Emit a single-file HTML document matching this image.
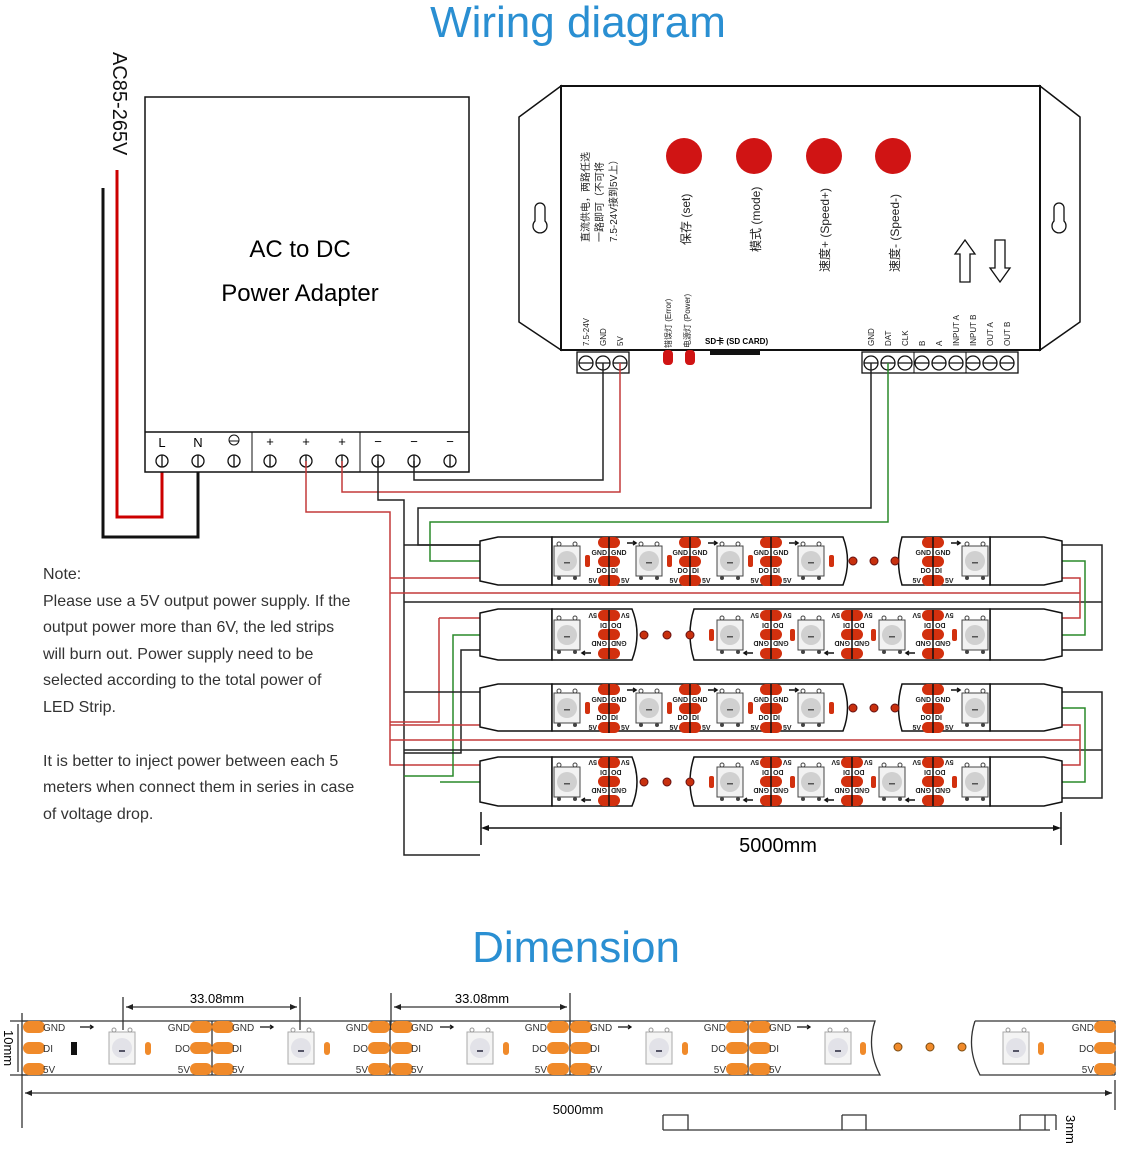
<!DOCTYPE html>
<html><head><meta charset="utf-8"><style>
html,body{margin:0;padding:0;background:#fff}
svg{display:block}
text{font-family:"Liberation Sans","Noto Sans CJK SC",sans-serif}
.s{font-family:"Liberation Serif","Noto Serif CJK SC","Noto Sans CJK SC",serif}
.pl{font-size:7px;font-weight:bold;fill:#222}
</style></head><body>
<svg width="1122" height="1151" viewBox="0 0 1122 1151" xmlns="http://www.w3.org/2000/svg">
<defs>
<g id="led">
<rect x="-13" y="-15" width="26" height="30" fill="#f2f2f2" stroke="#444" stroke-width="1"/>
<circle cx="0" cy="0" r="10" fill="#d0d0d0"/>
<circle cx="-8" cy="-17" r="2" fill="none" stroke="#444"/><circle cx="8" cy="-17" r="2" fill="none" stroke="#444"/>
<circle cx="-8" cy="17" r="2" fill="#444"/><circle cx="8" cy="17" r="2" fill="#444"/>
<rect x="-3" y="1" width="6" height="1.5" fill="#555"/>
</g>
<g id="pads">
<rect x="-11" y="-24" width="22" height="11" rx="5.5" fill="#d2300e"/>
<rect x="-11" y="-5" width="22" height="11" rx="5.5" fill="#d2300e"/>
<rect x="-11" y="14" width="22" height="11" rx="5.5" fill="#d2300e"/>
<line x1="0" y1="-24" x2="0" y2="25" stroke="#111" stroke-width="1.5"/>
<path d="M18,-18 h8 M24,-20 l3,2 -3,2" stroke="#111" stroke-width="1.5" fill="none"/>
</g>
<g id="opad"><rect x="-11" y="-6" width="22" height="12" rx="6" fill="#f08a2a"/></g>
<g id="oled">
<rect x="-13" y="-16" width="26" height="32" fill="#f4f4f4" stroke="#aaa"/>
<circle cx="0" cy="0" r="10" fill="#e2e2e8"/>
<circle cx="-8" cy="-18" r="2" fill="none" stroke="#999"/><circle cx="8" cy="-18" r="2" fill="none" stroke="#999"/>
<rect x="-3" y="2" width="6" height="2" fill="#556"/>
</g>
</defs>

<text x="578" y="37" text-anchor="middle" font-size="44" fill="#2a8fd2">Wiring diagram</text>
<text x="576" y="962" text-anchor="middle" font-size="44" fill="#2a8fd2">Dimension</text>

<text transform="translate(113,52) rotate(90)" font-size="20" fill="#111">AC85-265V</text>
<path d="M117,170 V517 H162 V466" stroke="#c00" stroke-width="3" fill="none"/>
<path d="M103,188 V537 H198 V466" stroke="#111" stroke-width="3" fill="none"/>

<rect x="145" y="97" width="324" height="375" fill="#fff" stroke="#111" stroke-width="1.5"/>
<line x1="145" y1="432" x2="469" y2="432" stroke="#111" stroke-width="1.5"/>
<line x1="252" y1="432" x2="252" y2="472" stroke="#111"/>
<line x1="360" y1="432" x2="360" y2="472" stroke="#111"/>
<text x="300" y="257" text-anchor="middle" font-size="24">AC to DC</text>
<text x="300" y="301" text-anchor="middle" font-size="24">Power Adapter</text>
<g class="s" font-size="13" text-anchor="middle">
<text x="162" y="447">L</text><text x="198" y="447">N</text>
<text x="270" y="446">+</text><text x="306" y="446">+</text><text x="342" y="446">+</text>
<text x="378" y="446">−</text><text x="414" y="446">−</text><text x="450" y="446">−</text>
</g>
<circle cx="234" cy="440" r="5" fill="none" stroke="#111"/><line x1="229" y1="441" x2="239" y2="441" stroke="#111"/>
<g fill="none" stroke="#111" stroke-width="1.3">
<circle cx="162" cy="461" r="6"/><circle cx="198" cy="461" r="6"/><circle cx="234" cy="461" r="6"/>
<circle cx="270" cy="461" r="6"/><circle cx="306" cy="461" r="6"/><circle cx="342" cy="461" r="6"/>
<circle cx="378" cy="461" r="6"/><circle cx="414" cy="461" r="6"/><circle cx="450" cy="461" r="6"/>
<path d="M162,455v12M198,455v12M234,455v12M270,455v12M306,455v12M342,455v12M378,455v12M414,455v12M450,455v12"/>
</g>

<path d="M561,86 L519,117 V322 L561,350 Z M1040,86 L1080,117 V322 L1040,350 Z" fill="#fff" stroke="#111" stroke-width="1.5"/>
<rect x="561" y="86" width="479" height="264" fill="#fff" stroke="#111" stroke-width="2"/>
<path d="M535,221 a7,7 0 1 0 10,0 v-13 a5,5 0 0 0 -10,0 z" fill="none" stroke="#111" stroke-width="1.3"/>
<path d="M1054,221 a7,7 0 1 0 10,0 v-13 a5,5 0 0 0 -10,0 z" fill="none" stroke="#111" stroke-width="1.3"/>
<g fill="#d01414"><circle cx="684" cy="156" r="18"/><circle cx="754" cy="156" r="18"/><circle cx="824" cy="156" r="18"/><circle cx="893" cy="156" r="18"/></g>
<g class="s" font-size="10" fill="#222">
<text transform="translate(589,242) rotate(-90)">直流供电，两路任选</text>
<text transform="translate(603,242) rotate(-90)">一路即可（不可将</text>
<text transform="translate(617,242) rotate(-90)">7.5-24V接到5V上）</text>
</g>
<g class="s" font-size="12" fill="#222">
<text transform="translate(690,245) rotate(-90)">保存 (set)</text>
<text transform="translate(760,252) rotate(-90)">模式 (mode)</text>
<text transform="translate(829,272) rotate(-90)">速度+ (Speed+)</text>
<text transform="translate(899,272) rotate(-90)">速度- (Speed-)</text>
</g>
<path d="M960,282 V254 H955 L965,240 L975,254 H970 V282 Z M995,240 V268 H990 L1000,282 L1010,268 H1005 V240 Z" fill="#fff" stroke="#111" stroke-width="1.3"/>
<g class="s" font-size="8" fill="#222">
<text transform="translate(589,346) rotate(-90)">7.5-24V</text>
<text transform="translate(606,346) rotate(-90)">GND</text>
<text transform="translate(623,346) rotate(-90)">5V</text>
<text transform="translate(671,348) rotate(-90)">错误灯 (Error)</text>
<text transform="translate(690,348) rotate(-90)">电源灯 (Power)</text>
<text transform="translate(874,346) rotate(-90)">GND</text>
<text transform="translate(891,346) rotate(-90)">DAT</text>
<text transform="translate(908,346) rotate(-90)">CLK</text>
<text transform="translate(925,346) rotate(-90)">B</text>
<text transform="translate(942,346) rotate(-90)">A</text>
<text transform="translate(959,346) rotate(-90)">INPUT A</text>
<text transform="translate(976,346) rotate(-90)">INPUT B</text>
<text transform="translate(993,346) rotate(-90)">OUT A</text>
<text transform="translate(1010,346) rotate(-90)">OUT B</text>
</g>
<text x="705" y="344" font-size="8" font-weight="bold">SD卡 (SD CARD)</text>
<rect x="710" y="351" width="50" height="4" fill="#111"/>
<rect x="663" y="350" width="10" height="15" rx="4" fill="#d01414"/><rect x="685" y="350" width="10" height="15" rx="4" fill="#d01414"/>
<rect x="577" y="352" width="52" height="21" fill="#fff" stroke="#111" stroke-width="1.3"/>
<rect x="862" y="352" width="156" height="21" fill="#fff" stroke="#111" stroke-width="1.3"/>
<line x1="914" y1="352" x2="914" y2="373" stroke="#111"/><line x1="966" y1="352" x2="966" y2="373" stroke="#111"/>
<g fill="none" stroke="#111" stroke-width="1.3">
<circle cx="586" cy="363" r="7"/><circle cx="603" cy="363" r="7"/><circle cx="620" cy="363" r="7"/>
<circle cx="871" cy="363" r="7"/><circle cx="888" cy="363" r="7"/><circle cx="905" cy="363" r="7"/><circle cx="922" cy="363" r="7"/><circle cx="939" cy="363" r="7"/><circle cx="956" cy="363" r="7"/><circle cx="973" cy="363" r="7"/><circle cx="990" cy="363" r="7"/><circle cx="1007" cy="363" r="7"/>
<path d="M579,363h14M596,363h14M613,363h14M864,363h14M881,363h14M898,363h14M915,363h14M932,363h14M949,363h14M966,363h14M983,363h14M1000,363h14"/>
</g>

<g fill="none" stroke-width="1.5">
<path d="M414,461 V480 H603 V363" stroke="#222"/>
<path d="M342,461 V492 H620 V363" stroke="#c43a3a"/>
<path d="M306,461 V512 H390 V765 H480" stroke="#c43a3a"/>
<path d="M378,461 V500 H404 V855 H480" stroke="#222"/>
<path d="M871,363 V508 H418 V545 H480" stroke="#222"/>
<path d="M888,363 V522 H430 V561 H480" stroke="#2a8a2a"/>
<path d="M390,578 H480" stroke="#c43a3a"/>
<path d="M390,593 H1080" stroke="#c43a3a"/>
<path d="M404,602 H1102" stroke="#222"/>
<path d="M404,545 H480" stroke="#222"/>
<path d="M439,618 V722 H390" stroke="#c43a3a"/>
<path d="M480,618 H439" stroke="#c43a3a"/>
<path d="M480,635 H453 V776 H404" stroke="#2a8a2a"/>
<path d="M480,650 H461 V753 H404" stroke="#222"/>
<path d="M404,692 H480" stroke="#222"/>
<path d="M390,725 H480" stroke="#c43a3a"/>
<path d="M390,740 H1080" stroke="#c43a3a"/>
<path d="M404,750 H1102" stroke="#222"/>
<path d="M440,782 H480" stroke="#2a8a2a"/>
<path d="M1062,545 H1102 V650 H1062" stroke="#222"/>
<path d="M1062,561 H1085 V635 H1062" stroke="#2a8a2a"/>
<path d="M1062,578 H1080 V618 H1062" stroke="#c43a3a"/>
<path d="M1062,692 H1102 V798 H1062" stroke="#222"/>
<path d="M1062,708 H1085 V782 H1062" stroke="#2a8a2a"/>
<path d="M1062,725 H1080 V765 H1062" stroke="#c43a3a"/>
</g>

<g stroke="#111" stroke-width="1.5" fill="#fff">
<path d="M480,541 L498,537 H552 V585 H498 L480,581 Z"/><path d="M990,537 H1044 L1062,541 V581 L1044,585 H990 Z"/>
<path d="M552,537 H843 Q852,561 843,585 H552 Z"/><path d="M902,537 H990 V585 H902 Q895,561 902,537 Z"/>
<path d="M480,613 L498,609 H552 V660 H498 L480,656 Z"/><path d="M990,609 H1044 L1062,613 V656 L1044,660 H990 Z"/>
<path d="M552,609 H632 Q642,634 632,660 H552 Z"/><path d="M694,609 H990 V660 H694 Q686,634 694,609 Z"/>
<path d="M480,688 L498,684 H552 V731 H498 L480,727 Z"/><path d="M990,684 H1044 L1062,688 V727 L1044,731 H990 Z"/>
<path d="M552,684 H843 Q852,708 843,731 H552 Z"/><path d="M902,684 H990 V731 H902 Q895,708 902,684 Z"/>
<path d="M480,761 L498,757 H552 V806 H498 L480,802 Z"/><path d="M990,757 H1044 L1062,761 V802 L1044,806 H990 Z"/>
<path d="M552,757 H632 Q642,782 632,806 H552 Z"/><path d="M694,757 H990 V806 H694 Q686,782 694,757 Z"/>
</g>
<g>
<use href="#led" x="567" y="561"/><use href="#led" x="649" y="561"/><use href="#led" x="730" y="561"/><use href="#led" x="811" y="561"/><use href="#led" x="975" y="561"/>
<use href="#led" x="567" y="635"/><use href="#led" x="730" y="635"/><use href="#led" x="811" y="635"/><use href="#led" x="892" y="635"/><use href="#led" x="975" y="635"/>
<use href="#led" x="567" y="708"/><use href="#led" x="649" y="708"/><use href="#led" x="730" y="708"/><use href="#led" x="811" y="708"/><use href="#led" x="975" y="708"/>
<use href="#led" x="567" y="782"/><use href="#led" x="730" y="782"/><use href="#led" x="811" y="782"/><use href="#led" x="892" y="782"/><use href="#led" x="975" y="782"/>
</g>
<g fill="#c8300e" stroke="#611" stroke-width="1">
<circle cx="853" cy="561" r="4"/><circle cx="874" cy="561" r="4"/><circle cx="895" cy="561" r="4"/>
<circle cx="644" cy="635" r="4"/><circle cx="667" cy="635" r="4"/><circle cx="690" cy="635" r="4"/>
<circle cx="853" cy="708" r="4"/><circle cx="874" cy="708" r="4"/><circle cx="895" cy="708" r="4"/>
<circle cx="644" cy="782" r="4"/><circle cx="667" cy="782" r="4"/><circle cx="690" cy="782" r="4"/>
</g>
<g fill="#d2300e">
<rect x="585" y="555" width="5" height="12" rx="2"/><rect x="667" y="555" width="5" height="12" rx="2"/><rect x="748" y="555" width="5" height="12" rx="2"/><rect x="829" y="555" width="5" height="12" rx="2"/>
<rect x="585" y="702" width="5" height="12" rx="2"/><rect x="667" y="702" width="5" height="12" rx="2"/><rect x="748" y="702" width="5" height="12" rx="2"/><rect x="829" y="702" width="5" height="12" rx="2"/>
<rect x="709" y="629" width="5" height="12" rx="2"/><rect x="790" y="629" width="5" height="12" rx="2"/><rect x="871" y="629" width="5" height="12" rx="2"/><rect x="952" y="629" width="5" height="12" rx="2"/>
<rect x="709" y="776" width="5" height="12" rx="2"/><rect x="790" y="776" width="5" height="12" rx="2"/><rect x="871" y="776" width="5" height="12" rx="2"/><rect x="952" y="776" width="5" height="12" rx="2"/>
</g>
<g transform="translate(609,561)"><use href="#pads"/><text class="pl" x="-2" y="-6" text-anchor="end">GND</text><text class="pl" x="2" y="-6">GND</text><text class="pl" x="-2" y="12" text-anchor="end">DO</text><text class="pl" x="2" y="12">DI</text><text class="pl" x="-12" y="22" text-anchor="end">5V</text><text class="pl" x="12" y="22">5V</text></g>
<g transform="translate(690,561)"><use href="#pads"/><text class="pl" x="-2" y="-6" text-anchor="end">GND</text><text class="pl" x="2" y="-6">GND</text><text class="pl" x="-2" y="12" text-anchor="end">DO</text><text class="pl" x="2" y="12">DI</text><text class="pl" x="-12" y="22" text-anchor="end">5V</text><text class="pl" x="12" y="22">5V</text></g>
<g transform="translate(771,561)"><use href="#pads"/><text class="pl" x="-2" y="-6" text-anchor="end">GND</text><text class="pl" x="2" y="-6">GND</text><text class="pl" x="-2" y="12" text-anchor="end">DO</text><text class="pl" x="2" y="12">DI</text><text class="pl" x="-12" y="22" text-anchor="end">5V</text><text class="pl" x="12" y="22">5V</text></g>
<g transform="translate(933,561)"><use href="#pads"/><text class="pl" x="-2" y="-6" text-anchor="end">GND</text><text class="pl" x="2" y="-6">GND</text><text class="pl" x="-2" y="12" text-anchor="end">DO</text><text class="pl" x="2" y="12">DI</text><text class="pl" x="-12" y="22" text-anchor="end">5V</text><text class="pl" x="12" y="22">5V</text></g>
<g transform="translate(609,708)"><use href="#pads"/><text class="pl" x="-2" y="-6" text-anchor="end">GND</text><text class="pl" x="2" y="-6">GND</text><text class="pl" x="-2" y="12" text-anchor="end">DO</text><text class="pl" x="2" y="12">DI</text><text class="pl" x="-12" y="22" text-anchor="end">5V</text><text class="pl" x="12" y="22">5V</text></g>
<g transform="translate(690,708)"><use href="#pads"/><text class="pl" x="-2" y="-6" text-anchor="end">GND</text><text class="pl" x="2" y="-6">GND</text><text class="pl" x="-2" y="12" text-anchor="end">DO</text><text class="pl" x="2" y="12">DI</text><text class="pl" x="-12" y="22" text-anchor="end">5V</text><text class="pl" x="12" y="22">5V</text></g>
<g transform="translate(771,708)"><use href="#pads"/><text class="pl" x="-2" y="-6" text-anchor="end">GND</text><text class="pl" x="2" y="-6">GND</text><text class="pl" x="-2" y="12" text-anchor="end">DO</text><text class="pl" x="2" y="12">DI</text><text class="pl" x="-12" y="22" text-anchor="end">5V</text><text class="pl" x="12" y="22">5V</text></g>
<g transform="translate(933,708)"><use href="#pads"/><text class="pl" x="-2" y="-6" text-anchor="end">GND</text><text class="pl" x="2" y="-6">GND</text><text class="pl" x="-2" y="12" text-anchor="end">DO</text><text class="pl" x="2" y="12">DI</text><text class="pl" x="-12" y="22" text-anchor="end">5V</text><text class="pl" x="12" y="22">5V</text></g>
<g transform="translate(609,635) rotate(180)"><use href="#pads"/><text class="pl" x="-2" y="-6" text-anchor="end">GND</text><text class="pl" x="2" y="-6">GND</text><text class="pl" x="-2" y="12" text-anchor="end">DO</text><text class="pl" x="2" y="12">DI</text><text class="pl" x="-12" y="22" text-anchor="end">5V</text><text class="pl" x="12" y="22">5V</text></g>
<g transform="translate(771,635) rotate(180)"><use href="#pads"/><text class="pl" x="-2" y="-6" text-anchor="end">GND</text><text class="pl" x="2" y="-6">GND</text><text class="pl" x="-2" y="12" text-anchor="end">DO</text><text class="pl" x="2" y="12">DI</text><text class="pl" x="-12" y="22" text-anchor="end">5V</text><text class="pl" x="12" y="22">5V</text></g>
<g transform="translate(852,635) rotate(180)"><use href="#pads"/><text class="pl" x="-2" y="-6" text-anchor="end">GND</text><text class="pl" x="2" y="-6">GND</text><text class="pl" x="-2" y="12" text-anchor="end">DO</text><text class="pl" x="2" y="12">DI</text><text class="pl" x="-12" y="22" text-anchor="end">5V</text><text class="pl" x="12" y="22">5V</text></g>
<g transform="translate(933,635) rotate(180)"><use href="#pads"/><text class="pl" x="-2" y="-6" text-anchor="end">GND</text><text class="pl" x="2" y="-6">GND</text><text class="pl" x="-2" y="12" text-anchor="end">DO</text><text class="pl" x="2" y="12">DI</text><text class="pl" x="-12" y="22" text-anchor="end">5V</text><text class="pl" x="12" y="22">5V</text></g>
<g transform="translate(609,782) rotate(180)"><use href="#pads"/><text class="pl" x="-2" y="-6" text-anchor="end">GND</text><text class="pl" x="2" y="-6">GND</text><text class="pl" x="-2" y="12" text-anchor="end">DO</text><text class="pl" x="2" y="12">DI</text><text class="pl" x="-12" y="22" text-anchor="end">5V</text><text class="pl" x="12" y="22">5V</text></g>
<g transform="translate(771,782) rotate(180)"><use href="#pads"/><text class="pl" x="-2" y="-6" text-anchor="end">GND</text><text class="pl" x="2" y="-6">GND</text><text class="pl" x="-2" y="12" text-anchor="end">DO</text><text class="pl" x="2" y="12">DI</text><text class="pl" x="-12" y="22" text-anchor="end">5V</text><text class="pl" x="12" y="22">5V</text></g>
<g transform="translate(852,782) rotate(180)"><use href="#pads"/><text class="pl" x="-2" y="-6" text-anchor="end">GND</text><text class="pl" x="2" y="-6">GND</text><text class="pl" x="-2" y="12" text-anchor="end">DO</text><text class="pl" x="2" y="12">DI</text><text class="pl" x="-12" y="22" text-anchor="end">5V</text><text class="pl" x="12" y="22">5V</text></g>
<g transform="translate(933,782) rotate(180)"><use href="#pads"/><text class="pl" x="-2" y="-6" text-anchor="end">GND</text><text class="pl" x="2" y="-6">GND</text><text class="pl" x="-2" y="12" text-anchor="end">DO</text><text class="pl" x="2" y="12">DI</text><text class="pl" x="-12" y="22" text-anchor="end">5V</text><text class="pl" x="12" y="22">5V</text></g>

<g stroke="#111" stroke-width="1.5">
<line x1="481" y1="812" x2="481" y2="845"/><line x1="1061" y1="812" x2="1061" y2="845"/>
<line x1="484" y1="828" x2="1058" y2="828"/>
</g>
<path d="M481,828 l8,-3 v6 z M1061,828 l-8,-3 v6 z" fill="#111"/>
<text x="778" y="852" text-anchor="middle" font-size="20">5000mm</text>

<g font-size="16" fill="#333">
<text x="43" y="579">Note:</text>
<text x="43" y="606">Please use a 5V output power supply. If the</text>
<text x="43" y="632">output power more than 6V, the led strips</text>
<text x="43" y="659">will burn out. Power supply need to be</text>
<text x="43" y="685">selected according to the total power of</text>
<text x="43" y="712">LED Strip.</text>
<text x="43" y="766">It is better to inject power between each 5</text>
<text x="43" y="792">meters when connect them in series in case</text>
<text x="43" y="819">of voltage drop.</text>
</g>

<g stroke="#333" stroke-width="1.3" fill="none">
<path d="M22,1021 H875 Q866,1048 880,1075 H22"/>
<path d="M975,1021 H1115 M1115,1075 H980 Q966,1048 975,1021"/>
<path d="M212,1021 V1075 M390,1021 V1075 M570,1021 V1075 M748,1021 V1075 M1115,1021 V1075"/>
<path d="M22,1013 V1128 M123,997 V1030 M300,997 V1030 M391,993 V1030 M570,993 V1030"/>
<path d="M126,1007 H297 M394,1007 H567"/>
<path d="M10,1021 H28 M10,1075 H28 M18,1024 V1072"/>
<path d="M25,1093 H1112 M1115,1080 V1110"/>
<path d="M663,1130 H1050 M663,1115 H688 V1130 M663,1115 V1130 M842,1115 H866 V1130 M842,1115 V1130 M1020,1115 H1056 M1020,1115 V1130 M1045,1115 V1130 M1056,1115 V1130"/>
</g>
<path d="M126,1007 l7,-3 v6z M297,1007 l-7,-3 v6z M394,1007 l7,-3 v6z M567,1007 l-7,-3 v6z M25,1093 l7,-3 v6z M1112,1093 l-7,-3 v6z" fill="#222"/>
<text x="217" y="1003" text-anchor="middle" font-size="13">33.08mm</text>
<text x="482" y="1003" text-anchor="middle" font-size="13">33.08mm</text>
<text x="578" y="1114" text-anchor="middle" font-size="13">5000mm</text>
<text transform="translate(4,1030) rotate(90)" font-size="13">10mm</text>
<text transform="translate(1066,1115) rotate(90)" font-size="13">3mm</text>
<g>
<use href="#opad" x="34" y="1027"/><use href="#opad" x="34" y="1048"/><use href="#opad" x="34" y="1069"/>
<use href="#opad" x="201" y="1027"/><use href="#opad" x="201" y="1048"/><use href="#opad" x="201" y="1069"/>
<use href="#opad" x="223" y="1027"/><use href="#opad" x="223" y="1048"/><use href="#opad" x="223" y="1069"/>
<use href="#opad" x="379" y="1027"/><use href="#opad" x="379" y="1048"/><use href="#opad" x="379" y="1069"/>
<use href="#opad" x="402" y="1027"/><use href="#opad" x="402" y="1048"/><use href="#opad" x="402" y="1069"/>
<use href="#opad" x="558" y="1027"/><use href="#opad" x="558" y="1048"/><use href="#opad" x="558" y="1069"/>
<use href="#opad" x="581" y="1027"/><use href="#opad" x="581" y="1048"/><use href="#opad" x="581" y="1069"/>
<use href="#opad" x="737" y="1027"/><use href="#opad" x="737" y="1048"/><use href="#opad" x="737" y="1069"/>
<use href="#opad" x="760" y="1027"/><use href="#opad" x="760" y="1048"/><use href="#opad" x="760" y="1069"/>
<use href="#opad" x="1105" y="1027"/><use href="#opad" x="1105" y="1048"/><use href="#opad" x="1105" y="1069"/>
<use href="#oled" x="122" y="1048"/><use href="#oled" x="301" y="1048"/><use href="#oled" x="480" y="1048"/><use href="#oled" x="659" y="1048"/><use href="#oled" x="838" y="1048"/><use href="#oled" x="1016" y="1048"/>
</g>
<g fill="#f08a2a"><rect x="145" y="1042" width="6" height="13" rx="3"/><rect x="324" y="1042" width="6" height="13" rx="3"/><rect x="503" y="1042" width="6" height="13" rx="3"/><rect x="682" y="1042" width="6" height="13" rx="3"/><rect x="860" y="1042" width="6" height="13" rx="3"/><rect x="1038" y="1042" width="6" height="13" rx="3"/></g>
<rect x="71" y="1042" width="6" height="13" fill="#111"/>
<g fill="#f08a2a" stroke="#7a4a10"><circle cx="898" cy="1047" r="4"/><circle cx="930" cy="1047" r="4"/><circle cx="962" cy="1047" r="4"/></g>
<g fill="none" stroke="#111" stroke-width="1.3"><path d="M80,1027 h13 M90,1025 l3,2 -3,2 M260,1027 h13 M270,1025 l3,2 -3,2 M440,1027 h13 M450,1025 l3,2 -3,2 M618,1027 h13 M628,1025 l3,2 -3,2 M797,1027 h13 M807,1025 l3,2 -3,2"/></g>
<g font-size="10" fill="#333">
<text x="43" y="1031">GND</text><text x="43" y="1052">DI</text><text x="43" y="1073">5V</text>
<text x="190" y="1031" text-anchor="end">GND</text><text x="190" y="1052" text-anchor="end">DO</text><text x="190" y="1073" text-anchor="end">5V</text>
<text x="232" y="1031">GND</text><text x="232" y="1052">DI</text><text x="232" y="1073">5V</text>
<text x="368" y="1031" text-anchor="end">GND</text><text x="368" y="1052" text-anchor="end">DO</text><text x="368" y="1073" text-anchor="end">5V</text>
<text x="411" y="1031">GND</text><text x="411" y="1052">DI</text><text x="411" y="1073">5V</text>
<text x="547" y="1031" text-anchor="end">GND</text><text x="547" y="1052" text-anchor="end">DO</text><text x="547" y="1073" text-anchor="end">5V</text>
<text x="590" y="1031">GND</text><text x="590" y="1052">DI</text><text x="590" y="1073">5V</text>
<text x="726" y="1031" text-anchor="end">GND</text><text x="726" y="1052" text-anchor="end">DO</text><text x="726" y="1073" text-anchor="end">5V</text>
<text x="769" y="1031">GND</text><text x="769" y="1052">DI</text><text x="769" y="1073">5V</text>
<text x="1094" y="1031" text-anchor="end">GND</text><text x="1094" y="1052" text-anchor="end">DO</text><text x="1094" y="1073" text-anchor="end">5V</text>
</g>
</svg>
</body></html>
